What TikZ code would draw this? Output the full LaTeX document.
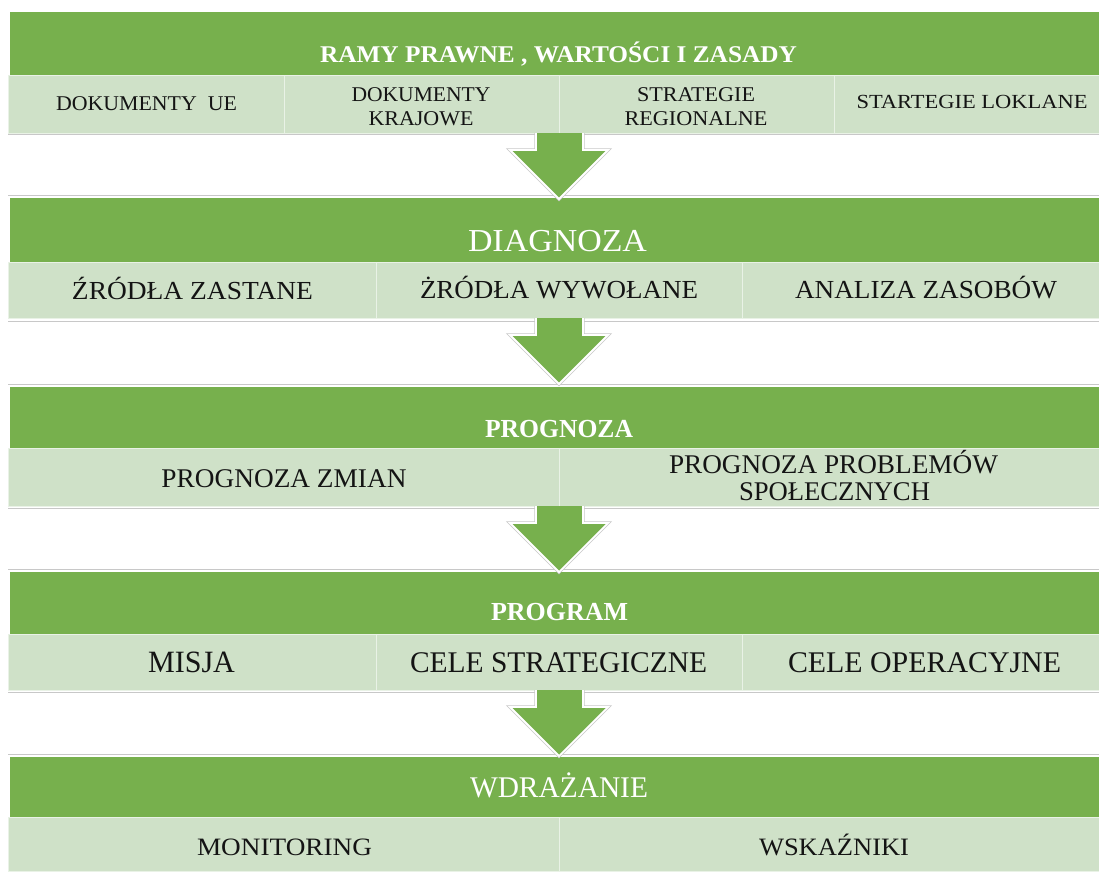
\documentclass[tikz,border=0pt]{standalone}
\usepackage{fontspec}
\setmainfont{Liberation Serif}
\usetikzlibrary{fit}
\definecolor{gr}{RGB}{119,176,77}
\definecolor{lg}{RGB}{207,225,200}
\definecolor{ln}{RGB}{200,200,200}
\newcommand{\fitw}[2]{\resizebox{#1pt}{\height}{#2}}
\begin{document}
\begin{tikzpicture}[x=1pt,y=-1pt,
  greenband/.style={fill=gr, draw=none, inner sep=0pt, outer sep=0pt},
  lightcell/.style={fill=lg, draw=white!55!lg, line width=1pt, inner sep=0pt, outer sep=0pt},
  rule/.style={draw=ln, line width=0.8pt},
  hb/.style={text=white, inner sep=0pt, anchor=base, font=\fontsize{#1}{#1}\selectfont\bfseries},
  hr/.style={text=white, inner sep=0pt, anchor=base, font=\fontsize{#1}{#1}\selectfont},
  ct/.style={text=black!92, inner sep=0pt, anchor=base, font=\fontsize{#1}{#1}\selectfont},
  downarrow/.pic={
    \draw[ln, line width=3.4pt] (-23,0) -- (-23,17) -- (-49,17) -- (0,66) -- (49,17) -- (24,17) -- (24,0);
    \fill[gr] (-23,0) -- (-23,17) -- (-49,17) -- (0,66) -- (49,17) -- (24,17) -- (24,0) -- cycle;
    \draw[white, line width=1.8pt] (-23,0) -- (-23,17) -- (-49,17) -- (0,66) -- (49,17) -- (24,17) -- (24,0);
  }
]
\fill[white] (0,0) rectangle (1099,871);
\useasboundingbox (0,0) rectangle (1099,871);

% separator rules
\draw[rule] (8,134) -- (1099,134);
\draw[rule] (8,195) -- (1099,195);
\draw[rule] (8,321) -- (1099,321);
\draw[rule] (8,384) -- (1099,384);
\draw[rule] (8,508) -- (1099,508);
\draw[rule] (8,569) -- (1099,569);
\draw[rule] (8,692) -- (1099,692);
\draw[rule] (8,754) -- (1099,754);

% section 1
\node[greenband, fit={(10,12) (1099,75)}] (g1) {};
\node[lightcell, fit={(8,75) (284,133)}] (c11) {};
\node[lightcell, fit={(284,75) (559,133)}] (c12) {};
\node[lightcell, fit={(559,75) (834,133)}] (c13) {};
\node[lightcell, fit={(834,75) (1099,133)}] (c14) {};
% section 2
\node[greenband, fit={(10,198) (1099,262)}] (g2) {};
\node[lightcell, fit={(8,262) (376,318)}] (c21) {};
\node[lightcell, fit={(376,262) (742,318)}] (c22) {};
\node[lightcell, fit={(742,262) (1099,318)}] (c23) {};
% section 3
\node[greenband, fit={(10,387) (1099,448)}] (g3) {};
\node[lightcell, fit={(8,448) (559,506)}] (c31) {};
\node[lightcell, fit={(559,448) (1099,506)}] (c32) {};
% section 4
\node[greenband, fit={(10,572) (1099,634)}] (g4) {};
\node[lightcell, fit={(8,634) (376,690)}] (c41) {};
\node[lightcell, fit={(376,634) (742,690)}] (c42) {};
\node[lightcell, fit={(742,634) (1099,690)}] (c43) {};
% section 5
\node[greenband, fit={(10,757) (1099,817)}] (g5) {};
\node[lightcell, fit={(8,817) (559,871)}] (c51) {};
\node[lightcell, fit={(559,817) (1099,871)}] (c52) {};

% arrows
\pic at (559,133) {downarrow};
\pic at (559,318) {downarrow};
\pic at (559,506) {downarrow};
\pic at (559,690) {downarrow};

% texts
\node[hb=24] (t1) at (558.5,62) {\fitw{477}{RAMY PRAWNE , WARTOŚCI I ZASADY}};
\node[ct=21] (x11) at (146.5,110.5) {\fitw{181}{DOKUMENTY\ \ UE}};
\node[ct=21] (x12a) at (421,101) {\fitw{139}{DOKUMENTY}};
\node[ct=21] (x12b) at (421,125) {\fitw{105}{KRAJOWE}};
\node[ct=21] (x13a) at (696,101) {\fitw{118}{STRATEGIE}};
\node[ct=21] (x13b) at (696,125) {\fitw{143}{REGIONALNE}};
\node[ct=20] (x14) at (972,108) {\fitw{231}{STARTEGIE LOKLANE}};

\node[hr=32] (t2) at (557.5,251) {\fitw{179}{DIAGNOZA}};
\node[ct=26] (x21) at (192.5,299) {\fitw{241}{ŹRÓDŁA ZASTANE}};
\node[ct=26] (x22) at (559,298) {\fitw{278}{ŻRÓDŁA WYWOŁANE}};
\node[ct=26] (x23) at (926,298) {\fitw{262}{ANALIZA ZASOBÓW}};

\node[hb=26] (t3) at (559,437) {\fitw{148}{PROGNOZA}};
\node[ct=27] (x31) at (284,487) {\fitw{245}{PROGNOZA ZMIAN}};
\node[ct=27] (x32a) at (833.5,473) {\fitw{329}{PROGNOZA PROBLEMÓW}};
\node[ct=27] (x32b) at (834.5,500) {\fitw{191}{SPOŁECZNYCH}};

\node[hb=26] (t4) at (559.5,620) {\fitw{137}{PROGRAM}};
\node[ct=31] (x41) at (191.5,672) {\fitw{87}{MISJA}};
\node[ct=30] (x42) at (558.5,672) {\fitw{297}{CELE STRATEGICZNE}};
\node[ct=30] (x43) at (924.5,672) {\fitw{273}{CELE OPERACYJNE}};

\node[hr=30] (t5) at (559,797) {\fitw{178}{WDRAŻANIE}};
\node[ct=25] (x51) at (284.5,855) {\fitw{175}{MONITORING}};
\node[ct=25] (x52) at (834,855) {\fitw{150}{WSKAŹNIKI}};
\end{tikzpicture}
\end{document}
